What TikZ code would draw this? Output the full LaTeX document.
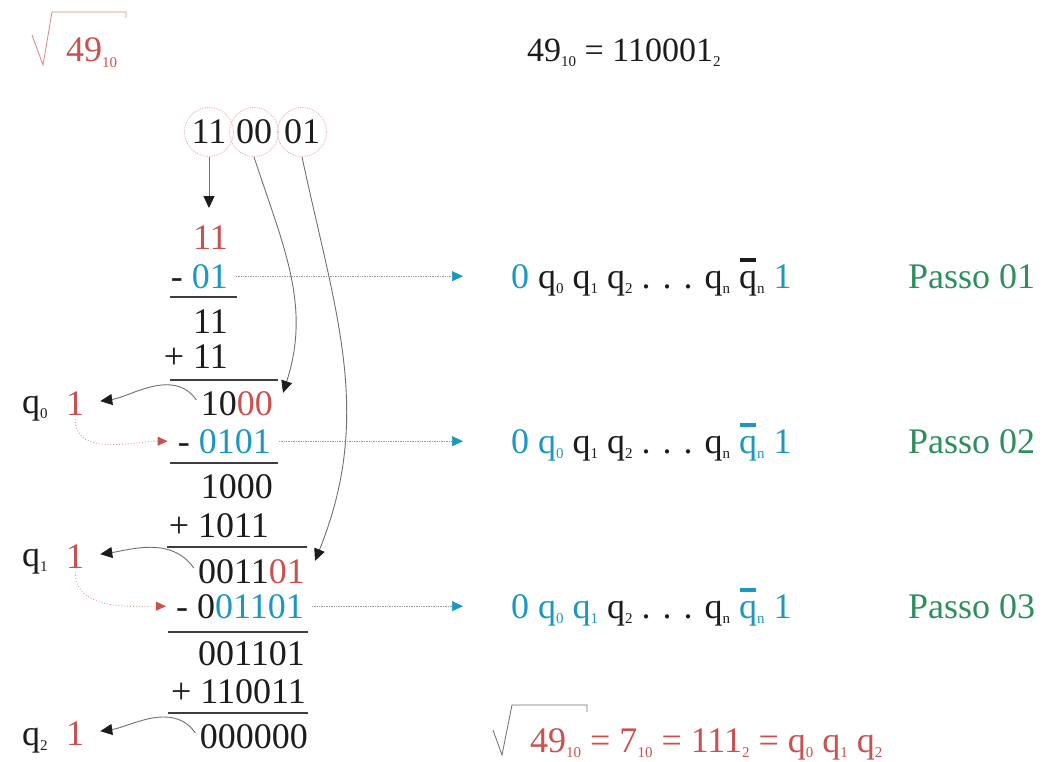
\documentclass[tikz,border=0pt]{standalone}
\usepackage{fontspec}
\setmainfont{Liberation Serif}
\usetikzlibrary{arrows.meta}
\definecolor{ink}{HTML}{1C1C1C}
\definecolor{numred}{HTML}{C8524F}
\definecolor{numblue}{HTML}{1C98C0}
\definecolor{stepgreen}{HTML}{2E8E5E}
\definecolor{wire}{HTML}{707070}
\newcommand\rd[1]{\textcolor{numred}{#1}}
\newcommand\bl[1]{\textcolor{numblue}{#1}}
\newcommand\sub[1]{\raisebox{-0.14em}{\fontsize{15}{15}\selectfont #1}}
\newcommand\qq[1]{q\sub{#1}}
\newcommand\qbar[1]{\rlap{\hspace{0.02em}\raisebox{0.72em}{\color{#1}\rule{0.44em}{0.12em}}}q\sub{n}}
\tikzset{
  digits/.style={font=\fontsize{36}{40}\selectfont,text=ink,inner sep=2pt},
  row/.style={digits,anchor=base east},
  label/.style={digits,anchor=base west},
  pair/.style={digits,circle,draw=numred!50,densely dotted,line width=.8pt,
    minimum size=49pt,inner sep=0pt},
  rulebar/.style={draw=ink!85,line width=1.3pt},
  feed/.style={-{Triangle[length=12pt,width=11pt,color=ink]},draw=wire,line width=.9pt},
  pick/.style={-{Triangle[length=10pt,width=9pt,color=numred]},draw=numred!60,
    dotted,line width=.9pt},
  trace/.style={-{Triangle[length=11pt,width=10pt,color=numblue]},draw=wire!70,
    densely dotted,line width=.7pt},
  root/.style={line width=.8pt}
}
\begin{document}
\begin{tikzpicture}[x=1pt,y=1pt]
  \useasboundingbox (0,0) rectangle (1047,-762);
  % header: the radicand and its binary form
  \draw[root,draw=numred!70] (32,-35) -- (43,-65) -- (52,-12) -- (126,-12) -- (126,-18);
  \node[label,text=numred] (rad) at (64,-62) {49\sub{10}};
  \node[label,font=\fontsize{34}{38}\selectfont] (bin) at (525,-62)
    {49\sub{10} = 110001\sub{2}};

  \node[pair] (p11) at (209,-132) {11};
  \node[pair] (p00) at (254,-132) {00};
  \node[pair] (p01) at (302,-132) {01};

  \node[row] (r11) at (230,-250) {\rd{11}};
  \node[row] (s01) at (230,-288) {- \bl{01}};
  \node[row] (c11) at (230,-333) {11};
  \node[row] (a11) at (230,-368) {+ 11};
  \node[row] (res0) at (275,-415) {10\rd{00}};
  \node[row] (s0101) at (273,-453) {- \bl{0101}};
  \node[row] (c1000) at (275,-498) {1000};
  \node[row] (a1011) at (271,-537) {+ 1011};
  \node[row] (res1) at (307,-583) {0011\rd{01}};
  \node[row] (s001101) at (306,-618) {- 0\bl{01101}};
  \node[row] (c001101) at (307,-665) {001101};
  \node[row] (a110011) at (308,-703) {+ 110011};
  \node[row] (res2) at (310,-748) {000000};

  \draw[rulebar] (170,-297) -- (237,-297);
  \draw[rulebar] (170,-380) -- (278,-380);
  \draw[rulebar] (170,-463) -- (278,-463);
  \draw[rulebar] (167,-547) -- (307,-547);
  \draw[rulebar] (168,-632) -- (308,-632);
  \draw[rulebar] (168,-713) -- (308,-713);

  \node[label] (q0) at (20,-413) {\qq0};
  \node[label,text=numred] (one0) at (64,-415) {1};
  \node[label] (q1) at (20,-566) {\qq1};
  \node[label,text=numred] (one1) at (64,-568) {1};
  \node[label] (q2) at (20,-745) {\qq2};
  \node[label,text=numred] (one2) at (64,-745) {1};

  \node[label] (f1) at (509,-288)
    {\bl{0} \qq0 \qq1 \qq2 . . . \qq{n} \qbar{ink} \bl{1}};
  \node[label] (f2) at (509,-453)
    {\bl{0 \qq0} \qq1 \qq2 . . . \qq{n} \bl{\qbar{numblue}} \bl{1}};
  \node[label] (f3) at (509,-618)
    {\bl{0 \qq0 \qq1} \qq2 . . . \qq{n} \bl{\qbar{numblue}} \bl{1}};
  \node[label,text=stepgreen] (step1) at (906,-288) {Passo 01};
  \node[label,text=stepgreen] (step2) at (906,-453) {Passo 02};
  \node[label,text=stepgreen] (step3) at (906,-618) {Passo 03};

  \draw[feed,shorten >=16pt] (p11.south) -- (p11.south |- r11.north);
  \draw[feed] (p00.south) to[out=-72,in=72] ([shift={(8,-4)}]res0.north east);
  \draw[feed] (p01.south) to[out=-78,in=68] ([shift={(8,-4)}]res1.north east);

  \draw[feed,shorten <=4pt,shorten >=14pt] (res0.west) to[out=125,in=8] (one0.east);
  \draw[feed,shorten <=4pt,shorten >=14pt] (res1.west) to[out=125,in=8] (one1.east);
  \draw[feed,shorten <=4pt,shorten >=14pt] (res2.west) to[out=125,in=8] (one2.east);

  \draw[pick,shorten <=2pt,shorten >=8pt] (one0.south) to[out=-90,in=180] (s0101.west);
  \draw[pick,shorten <=2pt,shorten >=8pt] (one1.south) to[out=-90,in=180] (s001101.west);

  \draw[trace,shorten <=6pt,shorten >=46pt] (s01.east) -- (s01.east -| f1.west);
  \draw[trace,shorten <=6pt,shorten >=46pt] (s0101.east) -- (s0101.east -| f2.west);
  \draw[trace,shorten <=6pt,shorten >=46pt] (s001101.east) -- (s001101.east -| f3.west);

  % closing identity
  \draw[root,draw=wire] (493,-730) -- (502,-755) -- (512,-705) -- (587,-705) -- (587,-712);
  \node[label,text=numred] (answer) at (528,-752)
    {49\sub{10} = 7\sub{10} = 111\sub{2} = \qq0 \qq1 \qq2};
\end{tikzpicture}
\end{document}
